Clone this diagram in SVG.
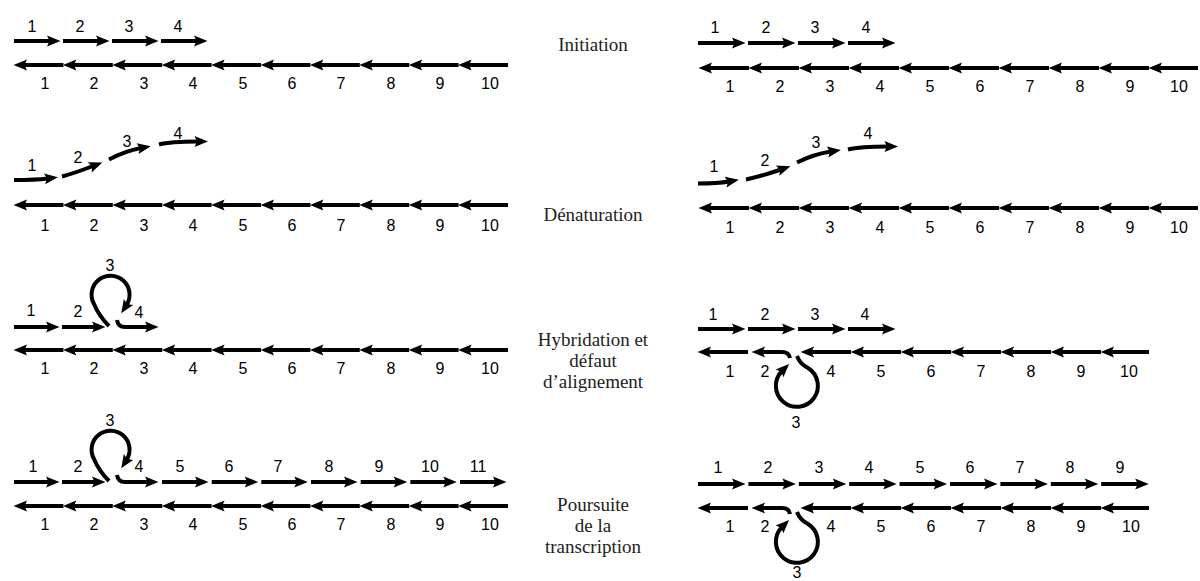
<svg xmlns="http://www.w3.org/2000/svg" width="1200" height="581" viewBox="0 0 1200 581">
<style>
.s{fill:none;stroke:#000;stroke-width:4;marker-end:url(#ah)}
.n{font-family:"Liberation Sans",Arial,sans-serif;font-size:16px;text-anchor:middle;fill:#000}
.t{font-family:"Liberation Serif","Times New Roman",serif;font-size:19px;text-anchor:middle;fill:#222}
</style>
<defs>
<marker id="ah" markerUnits="userSpaceOnUse" markerWidth="20" markerHeight="14" viewBox="-2 -7 20 14" refX="3.5" refY="0" orient="auto" overflow="visible"><path d="M13.5,0 L0,-5.5 L2.5,0 L0,5.5 Z" fill="#000"/></marker>
</defs>
<rect width="1200" height="581" fill="#fff"/>

<g id="labels">
<text class="t" x="593" y="51">Initiation</text>
<text class="t" x="593" y="221">Dénaturation</text>
<text class="t" x="593" y="346">Hybridation et</text>
<text class="t" x="593" y="367">défaut</text>
<text class="t" x="593" y="388">d’alignement</text>
<text class="t" x="593" y="511">Poursuite</text>
<text class="t" x="593" y="532">de la</text>
<text class="t" x="593" y="553">transcription</text>
</g>

<g id="connectors">
<!-- Panel 1 left -->
<path class="s" d="M14,41H50.5"/><path class="s" d="M63,41H99.5"/><path class="s" d="M112,41H148.5"/><path class="s" d="M161,41H197.5"/>
<path class="s" d="M63.4,65H23.5"/><path class="s" d="M112.8,65H72.9"/><path class="s" d="M162.2,65H122.3"/><path class="s" d="M211.6,65H171.7"/><path class="s" d="M261,65H221.1"/><path class="s" d="M310.4,65H270.5"/><path class="s" d="M359.8,65H319.9"/><path class="s" d="M409.2,65H369.3"/><path class="s" d="M458.6,65H418.7"/><path class="s" d="M508,65H468.1"/>
<!-- Panel 1 right -->
<path class="s" d="M698,43H735.5"/><path class="s" d="M748,43H785.5"/><path class="s" d="M798,43H835.5"/><path class="s" d="M848,43H885.5"/>
<path class="s" d="M749,68H708.5"/><path class="s" d="M799,68H758.5"/><path class="s" d="M849,68H808.5"/><path class="s" d="M899,68H858.5"/><path class="s" d="M949,68H908.5"/><path class="s" d="M999,68H958.5"/><path class="s" d="M1049,68H1008.5"/><path class="s" d="M1099,68H1058.5"/><path class="s" d="M1149,68H1108.5"/><path class="s" d="M1198,68H1158.5"/>
<!-- Panel 2 left -->
<path class="s" d="M14,180 Q35,180 48,178.5"/><path class="s" d="M62,176.5 Q75,173 93,166"/><path class="s" d="M109,159.5 Q125,151 141,148"/><path class="s" d="M159,144.5 Q170,141.5 198,141.5"/>
<path class="s" d="M63.4,205H23.5"/><path class="s" d="M112.8,205H72.9"/><path class="s" d="M162.2,205H122.3"/><path class="s" d="M211.6,205H171.7"/><path class="s" d="M261,205H221.1"/><path class="s" d="M310.4,205H270.5"/><path class="s" d="M359.8,205H319.9"/><path class="s" d="M409.2,205H369.3"/><path class="s" d="M458.6,205H418.7"/><path class="s" d="M508,205H468.1"/>
<!-- Panel 2 right -->
<path class="s" d="M698,183.5 Q718,183.5 729,181.5"/><path class="s" d="M746,179.5 Q762,176 781,169.5"/><path class="s" d="M797,162.5 Q814,154 831,151.5"/><path class="s" d="M848,149.5 Q860,146.5 888,146.5"/>
<path class="s" d="M749,208H708.5"/><path class="s" d="M799,208H758.5"/><path class="s" d="M849,208H808.5"/><path class="s" d="M899,208H858.5"/><path class="s" d="M949,208H908.5"/><path class="s" d="M999,208H958.5"/><path class="s" d="M1049,208H1008.5"/><path class="s" d="M1099,208H1058.5"/><path class="s" d="M1149,208H1108.5"/><path class="s" d="M1198,208H1158.5"/>
<!-- Panel 3 left -->
<path class="s" d="M14,327H49.5"/><path class="s" d="M62,327H95.5"/>
<path class="s" d="M109,326 Q99,316 94,304 A19,19 0 1 1 126.6,304.9"/>
<path class="s" d="M117,320 Q118,327 125,327 H148.5"/>
<path class="s" d="M63.4,350H23.5"/><path class="s" d="M112.8,350H72.9"/><path class="s" d="M162.2,350H122.3"/><path class="s" d="M211.6,350H171.7"/><path class="s" d="M261,350H221.1"/><path class="s" d="M310.4,350H270.5"/><path class="s" d="M359.8,350H319.9"/><path class="s" d="M409.2,350H369.3"/><path class="s" d="M458.6,350H418.7"/><path class="s" d="M508,350H468.1"/>
<!-- Panel 3 right -->
<path class="s" d="M698,329H735.5"/><path class="s" d="M748,329H785.5"/><path class="s" d="M798,329H835.5"/><path class="s" d="M848,329H885.5"/>
<path class="s" d="M748,352H707.5"/>
<path class="s" d="M790,358 Q789,352 782,352 H761.5"/>
<path class="s" d="M797,356 Q800,364 808,368 A21,21 0 1 1 782,371"/>
<path class="s" d="M851,352H810.5"/><path class="s" d="M901,352H860.5"/><path class="s" d="M951,352H910.5"/><path class="s" d="M1001,352H960.5"/><path class="s" d="M1051,352H1010.5"/><path class="s" d="M1101,352H1060.5"/><path class="s" d="M1149,352H1110.5"/>
<!-- Panel 4 left -->
<path class="s" d="M14,482H49.5"/><path class="s" d="M62,482H95.5"/>
<path class="s" d="M109,481 Q99,471 94,459 A19,19 0 1 1 126.6,459.9"/>
<path class="s" d="M117,475 Q118,482 125,482 H148.5"/>
<path class="s" d="M162,482H198.5"/><path class="s" d="M211.7,482H248.2"/><path class="s" d="M261.3,482H297.8"/><path class="s" d="M311,482H347.5"/><path class="s" d="M360.7,482H397.2"/><path class="s" d="M410.3,482H446.8"/><path class="s" d="M460,482H496.5"/>
<path class="s" d="M63.4,506H23.5"/><path class="s" d="M112.8,506H72.9"/><path class="s" d="M162.2,506H122.3"/><path class="s" d="M211.6,506H171.7"/><path class="s" d="M261,506H221.1"/><path class="s" d="M310.4,506H270.5"/><path class="s" d="M359.8,506H319.9"/><path class="s" d="M409.2,506H369.3"/><path class="s" d="M458.6,506H418.7"/><path class="s" d="M508,506H468.1"/>
<!-- Panel 4 right -->
<path class="s" d="M698,484H735.5"/><path class="s" d="M748.4,484H785.9"/><path class="s" d="M798.8,484H836.3"/><path class="s" d="M849.2,484H886.7"/><path class="s" d="M899.6,484H937.1"/><path class="s" d="M950,484H987.5"/><path class="s" d="M1000.4,484H1037.9"/><path class="s" d="M1050.8,484H1088.3"/><path class="s" d="M1101.2,484H1138.7"/>
<path class="s" d="M748,508H707.5"/>
<path class="s" d="M790,514 Q789,508 782,508 H761.5"/>
<path class="s" d="M797,512 Q800,520 808,524 A21,21 0 1 1 782,527"/>
<path class="s" d="M851,508H810.5"/><path class="s" d="M901,508H860.5"/><path class="s" d="M951,508H910.5"/><path class="s" d="M1001,508H960.5"/><path class="s" d="M1051,508H1010.5"/><path class="s" d="M1101,508H1060.5"/><path class="s" d="M1149,508H1110.5"/>
</g>

<g id="p1-left">
<text class="n" x="32" y="32">1</text><text class="n" x="80" y="32">2</text><text class="n" x="129" y="32">3</text><text class="n" x="178" y="32">4</text>
<text class="n" x="45" y="89">1</text><text class="n" x="94" y="89">2</text><text class="n" x="144" y="89">3</text><text class="n" x="193" y="89">4</text><text class="n" x="243" y="89">5</text><text class="n" x="292" y="89">6</text><text class="n" x="341" y="89">7</text><text class="n" x="391" y="89">8</text><text class="n" x="440" y="89">9</text><text class="n" x="490" y="89">10</text>
</g>
<g id="p1-right">
<text class="n" x="715" y="33">1</text><text class="n" x="766" y="33">2</text><text class="n" x="815" y="33">3</text><text class="n" x="866" y="33">4</text>
<text class="n" x="730" y="92">1</text><text class="n" x="780" y="92">2</text><text class="n" x="830" y="92">3</text><text class="n" x="880" y="92">4</text><text class="n" x="930" y="92">5</text><text class="n" x="980" y="92">6</text><text class="n" x="1030" y="92">7</text><text class="n" x="1080" y="92">8</text><text class="n" x="1130" y="92">9</text><text class="n" x="1179" y="92">10</text>
</g>
<g id="p2-left">
<text class="n" x="32" y="171">1</text><text class="n" x="78" y="163">2</text><text class="n" x="127" y="147">3</text><text class="n" x="178" y="139">4</text>
<text class="n" x="45" y="231">1</text><text class="n" x="94" y="231">2</text><text class="n" x="144" y="231">3</text><text class="n" x="193" y="231">4</text><text class="n" x="243" y="231">5</text><text class="n" x="292" y="231">6</text><text class="n" x="341" y="231">7</text><text class="n" x="391" y="231">8</text><text class="n" x="440" y="231">9</text><text class="n" x="490" y="231">10</text>
</g>
<g id="p2-right">
<text class="n" x="714" y="172">1</text><text class="n" x="765" y="166">2</text><text class="n" x="816" y="148">3</text><text class="n" x="868" y="139">4</text>
<text class="n" x="730" y="233">1</text><text class="n" x="780" y="233">2</text><text class="n" x="830" y="233">3</text><text class="n" x="880" y="233">4</text><text class="n" x="930" y="233">5</text><text class="n" x="980" y="233">6</text><text class="n" x="1030" y="233">7</text><text class="n" x="1080" y="233">8</text><text class="n" x="1130" y="233">9</text><text class="n" x="1179" y="233">10</text>
</g>
<g id="p3-left">
<text class="n" x="31" y="316">1</text><text class="n" x="78" y="317">2</text><text class="n" x="110" y="271">3</text><text class="n" x="139" y="318">4</text>
<text class="n" x="45" y="374">1</text><text class="n" x="94" y="374">2</text><text class="n" x="144" y="374">3</text><text class="n" x="193" y="374">4</text><text class="n" x="243" y="374">5</text><text class="n" x="292" y="374">6</text><text class="n" x="341" y="374">7</text><text class="n" x="391" y="374">8</text><text class="n" x="440" y="374">9</text><text class="n" x="490" y="374">10</text>
</g>
<g id="p3-right">
<text class="n" x="713" y="320">1</text><text class="n" x="765" y="320">2</text><text class="n" x="815" y="320">3</text><text class="n" x="865" y="320">4</text>
<text class="n" x="730" y="377">1</text><text class="n" x="765" y="377">2</text><text class="n" x="796" y="428">3</text><text class="n" x="831" y="377">4</text><text class="n" x="881" y="377">5</text><text class="n" x="931" y="377">6</text><text class="n" x="981" y="377">7</text><text class="n" x="1031" y="377">8</text><text class="n" x="1081" y="377">9</text><text class="n" x="1129" y="377">10</text>
</g>
<g id="p4-left">
<text class="n" x="33" y="472">1</text><text class="n" x="78" y="472">2</text><text class="n" x="110" y="426">3</text><text class="n" x="139" y="472">4</text><text class="n" x="180" y="472">5</text><text class="n" x="229" y="472">6</text><text class="n" x="278" y="472">7</text><text class="n" x="329" y="472">8</text><text class="n" x="379" y="472">9</text><text class="n" x="430" y="472">10</text><text class="n" x="478" y="472">11</text>
<text class="n" x="45" y="530">1</text><text class="n" x="94" y="530">2</text><text class="n" x="144" y="530">3</text><text class="n" x="193" y="530">4</text><text class="n" x="243" y="530">5</text><text class="n" x="292" y="530">6</text><text class="n" x="341" y="530">7</text><text class="n" x="391" y="530">8</text><text class="n" x="440" y="530">9</text><text class="n" x="490" y="530">10</text>
</g>
<g id="p4-right">
<text class="n" x="718" y="473">1</text><text class="n" x="768" y="473">2</text><text class="n" x="819" y="473">3</text><text class="n" x="869" y="473">4</text><text class="n" x="920" y="473">5</text><text class="n" x="970" y="473">6</text><text class="n" x="1020" y="473">7</text><text class="n" x="1070" y="473">8</text><text class="n" x="1120" y="473">9</text>
<text class="n" x="730" y="532">1</text><text class="n" x="765" y="532">2</text><text class="n" x="797" y="578">3</text><text class="n" x="831" y="532">4</text><text class="n" x="881" y="532">5</text><text class="n" x="931" y="532">6</text><text class="n" x="981" y="532">7</text><text class="n" x="1031" y="532">8</text><text class="n" x="1081" y="532">9</text><text class="n" x="1131" y="532">10</text>
</g>
</svg>
